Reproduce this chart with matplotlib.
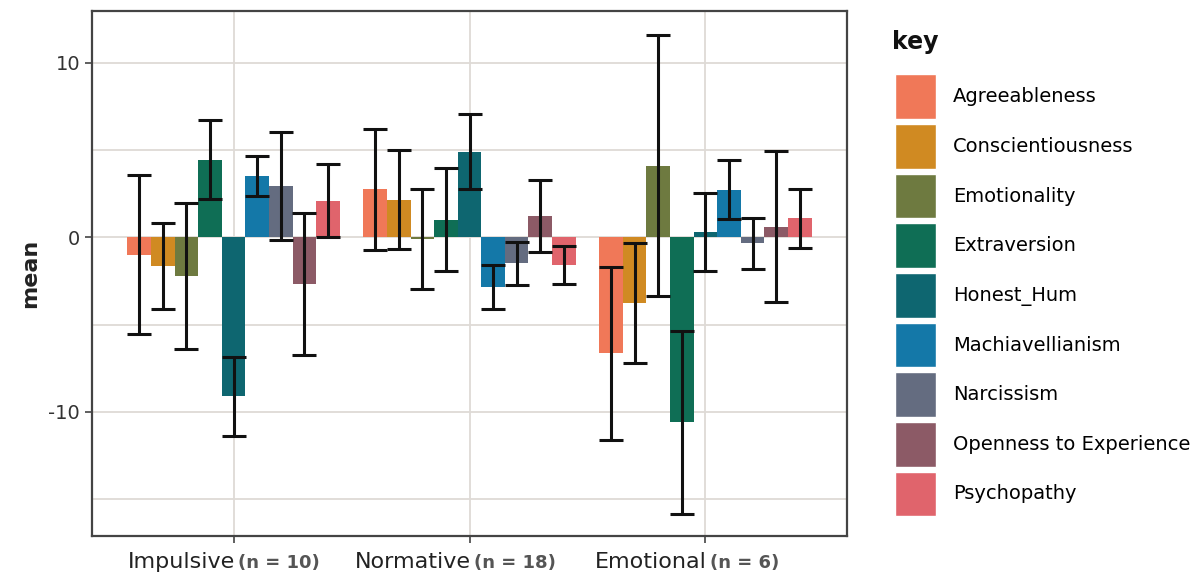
import numpy as np
import matplotlib.pyplot as plt
from matplotlib.patches import Patch

plt.rcParams["axes.unicode_minus"] = False

groups = ["Impulsive", "Normative", "Emotional"]
group_n = ["(n = 10)", "(n = 18)", "(n = 6)"]
keys = ["Agreeableness", "Conscientiousness", "Emotionality", "Extraversion",
        "Honest_Hum", "Machiavellianism", "Narcissism",
        "Openness to Experience", "Psychopathy"]

# means per key, order: Impulsive, Normative, Emotional
agree = [-1.0, 2.75, -6.65]
consc = [-1.65, 2.15, -3.75]
emot = [-2.2, -0.12, 4.1]
extra = [4.45, 1.0, -10.6]
honest = [-9.1, 4.9, 0.3]
mach = [3.5, -2.85, 2.72]
narc = [2.95, -1.5, -0.35]
openn = [-2.7, 1.22, 0.6]
psych = [2.1, -1.58, 1.08]

# error half-widths
agree_err = [4.55, 3.46, 4.95]
consc_err = [2.45, 2.82, 3.44]
emot_err = [4.18, 2.87, 7.45]
extra_err = [2.27, 2.95, 5.22]
honest_err = [2.27, 2.14, 2.25]
mach_err = [1.16, 1.28, 1.7]
narc_err = [3.08, 1.23, 1.45]
openn_err = [4.06, 2.07, 4.32]
psych_err = [2.1, 1.07, 1.7]

means = [agree, consc, emot, extra, honest, mach, narc, openn, psych]
errs = [agree_err, consc_err, emot_err, extra_err, honest_err, mach_err,
        narc_err, openn_err, psych_err]

colors = ["#F07858", "#D08A22", "#6E7A40", "#0F6E55", "#0E6670",
          "#1478A8", "#646C80", "#8C5A66", "#E0646C"]

fig = plt.figure(figsize=(12.02, 5.79), dpi=100)
ax = fig.add_axes([92 / 1202, 43 / 579, 755 / 1202, 525 / 579])

x = np.arange(1, len(groups) + 1)
w = 0.1
for i, (m, e, c) in enumerate(zip(means, errs, colors)):
    xs = x + (i - 4) * w
    ax.bar(xs, m, width=w, color=c, zorder=2)
    ax.errorbar(xs, m, yerr=e, fmt="none", ecolor="#111111", elinewidth=2.2,
                capsize=8.5, capthick=2.2, zorder=3)

ax.set_xlim(0.4, 3.6)
ax.set_ylim(-17.1, 12.95)
ax.set_yticks([-10, 0, 10])
ax.set_yticks([-15, -5, 5], minor=True)
ax.set_xticks(x)
ax.set_xticklabels([])
ax.tick_params(axis="x", length=5, width=1.2, color="#444444")
ax.tick_params(axis="y", which="major", length=5, width=1.2, color="#444444",
               labelsize=14, labelcolor="#333333")
ax.tick_params(axis="y", which="minor", length=0)
for xi, g, n in zip(x, groups, group_n):
    ax.text(xi + 0.005, -0.03, g, transform=ax.get_xaxis_transform(),
            ha="right", va="top", fontsize=16, color="#222222")
    ax.text(xi + 0.02, -0.035, n, transform=ax.get_xaxis_transform(),
            ha="left", va="top", fontsize=13, color="#555555",
            fontweight="bold")

ax.grid(True, which="both", color="#dedad6", linewidth=1.3, zorder=0)
ax.set_axisbelow(True)
for s in ax.spines.values():
    s.set_color("#444444")
    s.set_linewidth(1.6)

ax.set_ylabel("mean", fontsize=16, fontweight="bold", color="#222222", labelpad=6)

handles = [Patch(facecolor=c, edgecolor="white") for c in colors]
leg = fig.legend(handles, keys, loc="upper left",
                 bbox_to_anchor=(877 / 1202, 1 - 57 / 579), frameon=False,
                 prop={"size": 14},
                 handlelength=2.15, handleheight=3.15, labelspacing=0.26,
                 handletextpad=0.85)
fig.text(892 / 1202, 1 - 42 / 579, "key", ha="left", va="center",
         fontsize=17, fontweight="bold", color="#111111")

fig.savefig("out.png", dpi=100)
